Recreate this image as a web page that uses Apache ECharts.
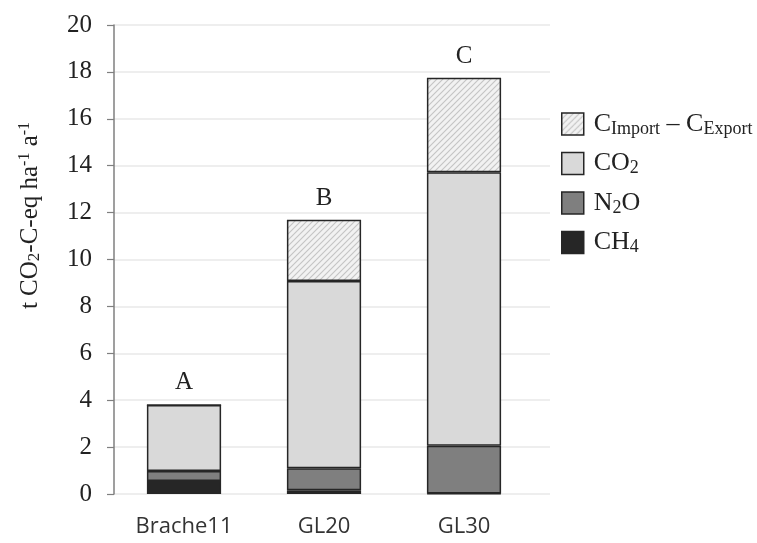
<!DOCTYPE html>
<html><head><meta charset="utf-8">
<script src="https://cdn.jsdelivr.net/npm/echarts@6/dist/echarts.min.js"></script>
<style>html,body{margin:0;padding:0;background:#fff}#c{width:757px;height:543px}</style>
</head><body><div id="c"></div>
<script>
var categories = ['Brache11', 'GL20', 'GL30'];
var ch4 = [0.55, 0.16, 0.02];
var n2o = [0.43, 0.94, 2.04];
var co2 = [2.82, 7.98, 11.66];
var importExport = [0, 2.62, 4.03];
var letters = ['A', 'B', 'C'];
var yTicks = [0, 20, 2];

function hatch() {
  var c = document.createElement('canvas');
  c.width = 6; c.height = 6;
  var g = c.getContext('2d');
  g.fillStyle = '#f2f2f2'; g.fillRect(0, 0, 6, 6);
  g.strokeStyle = '#c4c4c4'; g.lineWidth = 1.1;
  g.beginPath();
  g.moveTo(-1, 7); g.lineTo(7, -1);
  g.moveTo(-4, 4); g.lineTo(4, -4);
  g.moveTo(2, 10); g.lineTo(10, 2);
  g.stroke();
  return c;
}
var hatchPattern = { image: hatch(), repeat: 'repeat' };

var serif = '"Liberation Serif", "Times New Roman", serif';
var border = { borderColor: '#262626', borderWidth: 1.5 };
function richSet(big, small, lh) {
  return {
    n: { fontFamily: serif, fontSize: big, color: '#222', lineHeight: lh, verticalAlign: 'middle' },
    s: { fontFamily: serif, fontSize: small, color: '#222', lineHeight: lh, verticalAlign: 'bottom' },
    p: { fontFamily: serif, fontSize: small - 1, color: '#222', lineHeight: lh, verticalAlign: 'top' }
  };
}

var legendText = {
  'Import': '{n|C}{s|Import}{n| – C}{s|Export}',
  'CO2': '{n|CO}{s|2}',
  'N2O': '{n|N}{s|2}{n|O}',
  'CH4': '{n|CH}{s|4}'
};

function mk(name, data, color, extra) {
  var s = {
    name: name, type: 'bar', stack: 'tot', data: data,
    xAxisIndex: 1, yAxisIndex: 1, barWidth: '53%',
    itemStyle: Object.assign({ color: color }, border),
    emphasis: { disabled: true }
  };
  return Object.assign(s, extra || {});
}

var chart = echarts.init(document.getElementById('c'), null, { renderer: 'canvas' });
chart.setOption({
  animation: false,
  backgroundColor: '#fff',
  grid: [
    { left: 114, right: 207, top: 25, bottom: 49 },
    { left: 114, right: 223, top: 25, bottom: 49 }
  ],
  legend: {
    orient: 'vertical', left: 556, top: 106,
    icon: 'rect',
    itemWidth: 22, itemHeight: 22, itemGap: 12.5,
    data: ['Import', 'CO2', 'N2O', 'CH4'],
    itemStyle: { borderColor: '#262626', borderWidth: 1.5 },
    formatter: function (n) { return legendText[n]; },
    textStyle: { rich: richSet(26, 18, 28), fontFamily: serif, fontSize: 26, color: '#222', padding: [0, 0, 0, 5] }
  },
  xAxis: [
    { type: 'category', gridIndex: 0, data: categories, show: false },
    { type: 'category', gridIndex: 1, data: categories,
      axisLine: { show: false }, axisTick: { show: false },
      axisLabel: { margin: 22, fontFamily: '"Open Sans", sans-serif', fontSize: 22, color: '#333' } }
  ],
  yAxis: [
    { type: 'value', gridIndex: 0, min: yTicks[0], max: yTicks[1], interval: yTicks[2],
      axisLine: { show: true, lineStyle: { color: '#7f7f7f', width: 1.5 } },
      axisTick: { show: true, length: 7, lineStyle: { color: '#7f7f7f', width: 1.2 } },
      splitLine: { show: true, lineStyle: { color: '#e8e8e8', width: 1.5 } },
      axisLabel: { margin: 22, fontFamily: serif, fontSize: 25, color: '#222' },
      name: '{n|t CO}{s|2}{n|-C-eq ha}{p|-1}{n| a}{p|-1}',
      nameLocation: 'middle', nameRotate: 90, nameGap: 71,
      nameTextStyle: { rich: richSet(25, 17, 26), fontFamily: serif, fontSize: 25, padding: [0, 0, 0, 88] }
    },
    { type: 'value', gridIndex: 1, min: yTicks[0], max: yTicks[1], interval: yTicks[2], show: false }
  ],
  series: [
    mk('CH4', ch4, '#262626'),
    mk('N2O', n2o, '#7f7f7f'),
    mk('CO2', co2, '#d9d9d9'),
    mk('Import', importExport, hatchPattern, {
      label: { show: true, position: 'top', distance: 9,
        formatter: function (p) { return letters[p.dataIndex]; },
        fontFamily: serif, fontSize: 25, color: '#222' }
    })
  ]
});
</script></body></html>
